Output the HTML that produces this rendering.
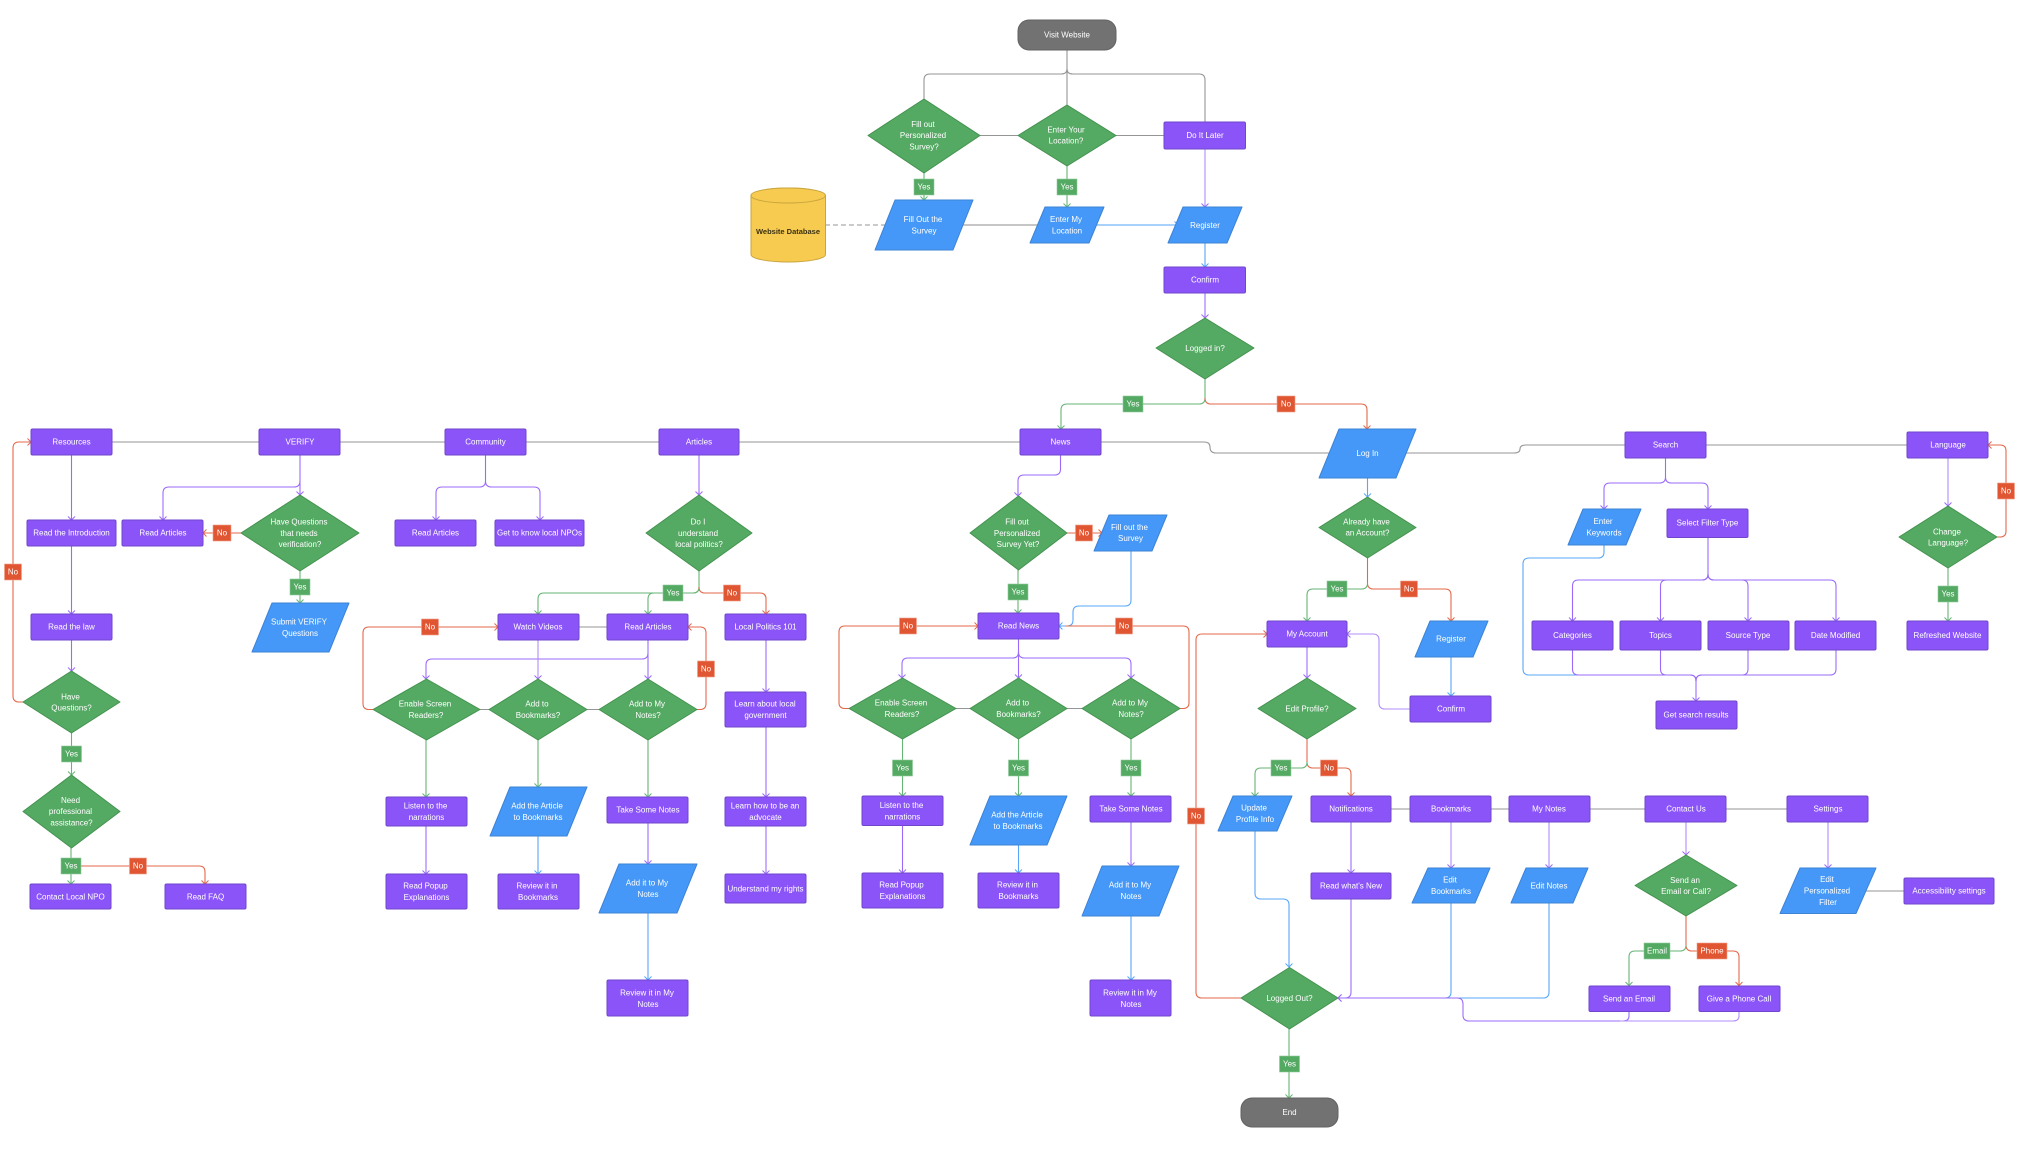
<!DOCTYPE html>
<html><head><meta charset="utf-8"><title>Flow</title>
<style>
html,body{margin:0;padding:0;background:#fff}
svg{display:block;filter:blur(.25px)}
text{font-family:"Liberation Sans",sans-serif;font-size:8px;fill:#fff;text-anchor:middle;dominant-baseline:central}
.p{fill:#8b54f8;stroke:#7146cc;stroke-width:1}
.d{fill:#54a963;stroke:#44924f;stroke-width:1;stroke-linejoin:round}
.b{fill:#4598f7;stroke:#3d83d6;stroke-width:1;stroke-linejoin:round}
.t{fill:#727272;stroke:#626262;stroke-width:1}
.ly{fill:#54a963;stroke:#8fcb9b;stroke-width:.6}
.ln{fill:#e05532;stroke:#f0a08c;stroke-width:.6}
path.c{fill:none;stroke-width:1.1}
.gy{stroke:#959595}.pu{stroke:#9a6bf9}.gr{stroke:#66b576}.bu{stroke:#58a7f9}.re{stroke:#e3684a}
.pa{marker-end:url(#mp)}.ga{marker-end:url(#mg)}.ba{marker-end:url(#mb)}.ra{marker-end:url(#mr)}
</style></head><body>
<svg width="2020" height="1162" viewBox="0 0 2020 1162" xmlns="http://www.w3.org/2000/svg">
<defs>
<marker id="mp" markerUnits="userSpaceOnUse" markerWidth="10" markerHeight="10" refX="8" refY="5" orient="auto"><path d="M4.5 1.5L8 5L4.5 8.5" fill="none" stroke="#9a6bf9" stroke-width="1"/></marker>
<marker id="mg" markerUnits="userSpaceOnUse" markerWidth="10" markerHeight="10" refX="8" refY="5" orient="auto"><path d="M4.5 1.5L8 5L4.5 8.5" fill="none" stroke="#66b576" stroke-width="1"/></marker>
<marker id="mb" markerUnits="userSpaceOnUse" markerWidth="10" markerHeight="10" refX="8" refY="5" orient="auto"><path d="M4.5 1.5L8 5L4.5 8.5" fill="none" stroke="#58a7f9" stroke-width="1"/></marker>
<marker id="mr" markerUnits="userSpaceOnUse" markerWidth="10" markerHeight="10" refX="8" refY="5" orient="auto"><path d="M4.5 1.5L8 5L4.5 8.5" fill="none" stroke="#e3684a" stroke-width="1"/></marker>
</defs>

<!-- gray connectors -->
<g>
<path class="c gy" d="M1067 50V105"/>
<path class="c gy" d="M1067 69Q1067 74 1061 74H930Q924 74 924 80V99"/>
<path class="c gy" d="M1067 69Q1067 74 1073 74H1199Q1205 74 1205 80V122"/>
<path class="c gy" d="M980 135.5H1018M1116 135.5H1164"/>
<path class="c gy" d="M825 225H886" stroke-dasharray="5 3"/>
<path class="c gy" style="stroke:#b4b4b4;stroke-width:1.5" d="M962 225H1040"/>
<path class="c gy" d="M112 442H259M340 442H445M526 442H659M739 442H1020"/>
<path class="c gy" d="M1101 442H1204Q1210 442 1210 447Q1210 453 1216 453H1332"/>
<path class="c gy" d="M1404 453H1514Q1520 453 1520 449Q1520 445 1526 445H1625M1706 445H1907"/>
<path class="c gy" d="M579 627H607M480 709.5H489M587 709.5H599M956 708.5H970M1067 708.5H1082"/>
<path class="c gy" d="M1391 809H1410M1491 809H1509M1590 809H1645M1726 809H1787M1862 891H1904"/>
</g>
<!-- top -->
<path class="c gr ga" d="M924 173V200"/>
<path class="c gr ga" d="M1067 166V207"/>
<path class="c pu pa" style="stroke:#b08cf9" d="M1205 149V207"/>
<path class="c bu ba" style="stroke:#8cc4fa;stroke-width:1.5" d="M1097 225H1178"/>
<path class="c bu ba" d="M1205 243V267"/>
<path class="c pu pa" d="M1205 293V318"/>
<path class="c gr ga" d="M1205 379V398Q1205 404 1199 404H1067Q1061 404 1061 410V429"/>
<path class="c re ra" d="M1205 398Q1205 404 1211 404H1361Q1367 404 1367 410V429"/>
<!-- resources -->
<path class="c pu pa" d="M71.500 455V520"/>
<path class="c pu pa" d="M71.500 546V614"/>
<path class="c pu pa" d="M71.500 640V671"/>
<path class="c gr ga" d="M71.500 733V775"/>
<path class="c gr ga" d="M71 848V884"/>
<path class="c re ra" d="M71 866H199Q205 866 205 872V884"/>
<path class="c re ra" d="M23 702H19Q13 702 13 696V448Q13 442 19 442H31"/>
<!-- verify -->
<path class="c pu pa" d="M300 455V495"/>
<path class="c pu pa" d="M300 481Q300 487 294 487H169Q163 487 163 493V520"/>
<path class="c re ra" d="M241 533H203"/>
<path class="c gr ga" d="M300 571V603"/>
<!-- community -->
<path class="c pu" d="M485.500 455V481"/>
<path class="c pu pa" d="M485.500 481Q485.500 487 479.500 487H442Q436 487 436 493V520"/>
<path class="c pu pa" d="M485.500 481Q485.500 487 491.500 487H534Q540 487 540 493V520"/>
<!-- articles -->
<path class="c pu pa" d="M699 455V495"/>
<path class="c gr" d="M699 571V587"/>
<path class="c gr ga" d="M699 587Q699 593 693 593H544Q538 593 538 599V614"/>
<path class="c gr ga" d="M699 587Q699 593 693 593H654Q648 593 648 599V614"/>
<path class="c re ra" d="M699 587Q699 593 705 593H760Q766 593 766 599V614"/>
<path class="c pu pa" d="M648 640V679"/>
<path class="c pu pa" d="M648 653Q648 659 642 659H432Q426 659 426 665V679"/>
<path class="c pu pa" style="stroke:#b08cf9" d="M538 640V679"/>
<path class="c re ra" d="M373 709.500H369Q363 709.500 363 703.500V633Q363 627 369 627H498"/>
<path class="c re ra" d="M697 709.500H700Q706 709.500 706 703.500V633Q706 627 700 627H688"/>
<path class="c gr ga" d="M426 740V797"/>
<path class="c gr ga" d="M538 740V787"/>
<path class="c gr ga" d="M648 740V797"/>
<path class="c pu pa" d="M426 826V874"/>
<path class="c bu ba" d="M538 836V874"/>
<path class="c pu pa" d="M648 823V864"/>
<path class="c bu ba" d="M648 913V980"/>
<path class="c pu pa" d="M766 640V692"/>
<path class="c pu pa" d="M766 727V797"/>
<path class="c pu pa" d="M766 826V874"/>
<!-- news -->
<path class="c pu pa" d="M1060.500 455V469Q1060.500 475 1054.500 475H1024Q1018 475 1018 481V496"/>
<path class="c re ra" d="M1067 533H1102"/>
<path class="c gr ga" d="M1018 570V613"/>
<path class="c bu ba" d="M1131 551V600Q1131 606 1125 606H1079Q1073 606 1073 612V620Q1073 626 1067 626H1059"/>
<path class="c re ra" d="M849 708.500H845Q839 708.500 839 702.500V632Q839 626 845 626H978"/>
<path class="c re" d="M1180 708.500H1183Q1189 708.500 1189 702.500V632Q1189 626 1183 626H1066"/>
<path class="c pu pa" d="M1018.500 639V678"/>
<path class="c pu pa" d="M1018.500 652Q1018.500 658 1012.500 658H908Q902 658 902 664V678"/>
<path class="c pu pa" d="M1018.500 652Q1018.500 658 1024.500 658H1125Q1131 658 1131 664V678"/>
<path class="c gr ga" d="M902.500 739V796"/>
<path class="c gr ga" d="M1018.500 739V796"/>
<path class="c gr ga" d="M1131 739V796"/>
<path class="c pu pa" d="M902.500 825V873"/>
<path class="c bu ba" d="M1018.500 845V873"/>
<path class="c pu pa" d="M1131 822V866"/>
<path class="c bu ba" d="M1131 916V980"/>
<!-- login / account -->
<path class="c re ra" d="M1241 998H1202Q1196 998 1196 992V640Q1196 634 1202 634H1267"/>
<path class="c bu ba" d="M1367.500 478V497"/>
<path class="c re" d="M1367.500 558V583"/>
<path class="c re ra" d="M1367.500 583Q1367.500 589 1373.500 589H1445Q1451 589 1451 595V621"/>
<path class="c gr ga" d="M1367.500 583Q1367.500 589 1361.500 589H1313Q1307 589 1307 595V621"/>
<path class="c pu pa" d="M1307 647V678"/>
<path class="c bu ba" d="M1451 657V696"/>
<path class="c pu pa" style="stroke:#b08cf9" d="M1410 709H1385Q1379 709 1379 703V640Q1379 634 1373 634H1347"/>
<path class="c re" d="M1307 739V762"/>
<path class="c re ra" d="M1307 762Q1307 768 1313 768H1345Q1351 768 1351 774V796"/>
<path class="c gr ga" d="M1307 762Q1307 768 1301 768H1261Q1255 768 1255 774V796"/>
<path class="c bu ba" d="M1255 831V893Q1255 899 1261 899H1283Q1289 899 1289 905V967"/>
<path class="c pu pa" d="M1351 822V873"/>
<path class="c bu" d="M1451 903V992Q1451 998 1445 998H1400"/>
<path class="c bu" d="M1549 903V992Q1549 998 1543 998H1440"/>
<path class="c pu pa" d="M1351 899V992Q1351 998 1345 998H1338"/>
<path class="c pu pa" d="M1629 1011V1016Q1629 1021 1623 1021H1469Q1463 1021 1463 1015V1004Q1463 998 1457 998H1338"/>
<path class="c pu" style="stroke:#b08cf9" d="M1739 1011V1016Q1739 1021 1733 1021H1620"/>
<path class="c pu pa" style="stroke:#b08cf9" d="M1451 822V868"/>
<path class="c pu pa" style="stroke:#b08cf9" d="M1549 822V868"/>
<path class="c gr ga" d="M1289 1029V1098"/>
<!-- contact / settings -->
<path class="c pu pa" style="stroke:#b08cf9" d="M1686 822V855"/>
<path class="c re" d="M1686 916V945"/>
<path class="c re ra" d="M1686 945Q1686 951 1692 951H1733Q1739 951 1739 957V985.500"/>
<path class="c gr ga" d="M1686 945Q1686 951 1680 951H1635Q1629 951 1629 957V985.500"/>
<path class="c pu pa" style="stroke:#b08cf9" d="M1828 822V868"/>
<!-- search -->
<path class="c pu" d="M1665.500 458V477"/>
<path class="c pu pa" d="M1665.500 477Q1665.500 483 1659.500 483H1610Q1604 483 1604 489V509"/>
<path class="c pu pa" d="M1665.500 477Q1665.500 483 1671.500 483H1702Q1708 483 1708 489V509"/>
<path class="c pu" d="M1708 537.500V574"/>
<path class="c pu pa" d="M1708 574Q1708 580 1702 580H1578.500Q1572.500 580 1572.500 586V621"/>
<path class="c pu pa" d="M1708 574Q1708 580 1702 580H1666.500Q1660.500 580 1660.500 586V621"/>
<path class="c pu pa" d="M1708 574Q1708 580 1714 580H1742Q1748 580 1748 586V621"/>
<path class="c pu pa" d="M1708 574Q1708 580 1714 580H1830Q1836 580 1836 586V621"/>
<path class="c bu" d="M1604 545V552Q1604 558 1598 558H1529Q1523 558 1523 564V669Q1523 675 1529 675H1578"/>
<path class="c pu" d="M1572.500 650V669Q1572.500 675 1578.500 675H1690Q1696 675 1696 681"/>
<path class="c pu" d="M1660.500 650V669Q1660.500 675 1666.500 675H1690Q1696 675 1696 681"/>
<path class="c pu" d="M1748 650V669Q1748 675 1742 675H1702Q1696 675 1696 681"/>
<path class="c pu" d="M1836 650V669Q1836 675 1830 675H1702Q1696 675 1696 681"/>
<path class="c pu pa" d="M1696 680V701"/>
<!-- language -->
<path class="c pu pa" style="stroke:#b08cf9" d="M1948 458V506"/>
<path class="c gr ga" d="M1948 568V621"/>
<path class="c re ra" d="M1997 537H2000Q2006 537 2006 531V451Q2006 445 2000 445H1988"/>

<!-- terminators -->
<rect class="t" x="1018" y="20" width="98" height="30" rx="11"/><text x="1067" y="35">Visit Website</text>
<rect class="t" x="1241" y="1098" width="97" height="29" rx="11"/><text x="1289.500" y="1112.500">End</text>

<!-- database -->
<path d="M751 195.500A37.200 7.500 0 0 1 825.500 195.500V254.500A37.200 7.500 0 0 1 751 254.500Z" fill="#f6cb50" stroke="#c9a53d"/>
<ellipse cx="788.200" cy="195.500" rx="37.200" ry="7.500" fill="#f6cb50" stroke="#c9a53d"/>
<text x="788" y="231.500" style="fill:#3b3113;font-weight:bold;font-size:7.500px">Website Database</text>

<!-- diamonds -->
<polygon class="d" points="924,99 980,135.500 924,173 868,135.500"/>
<text x="923" y="124.500">Fill out</text><text x="923" y="135.700">Personalized</text><text x="924" y="147">Survey?</text>
<polygon class="d" points="1067,105 1116,135.500 1067,166 1018,135.500"/>
<text x="1066" y="130">Enter Your</text><text x="1066" y="141.200">Location?</text>
<polygon class="d" points="1205,318 1254,348 1205,379 1156,348"/>
<text x="1205" y="348.500">Logged in?</text>
<polygon class="d" points="300,495 359,533 300,571 241,533"/>
<text x="299" y="522">Have Questions</text><text x="299" y="533.300">that needs</text><text x="300" y="544.500">verification?</text>
<polygon class="d" points="71.500,671 120,702 71.500,733 23,702"/>
<text x="70.500" y="697">Have</text><text x="71.500" y="708">Questions?</text>
<polygon class="d" points="71.500,775 120,811.500 71.500,848 23,811.500"/>
<text x="70.500" y="800.500">Need</text><text x="70.500" y="811.700">professional</text><text x="71.500" y="823">assistance?</text>
<polygon class="d" points="699,495 752,533 699,571 646,533"/>
<text x="698" y="522">Do I</text><text x="698" y="533.300">understand</text><text x="699" y="544.500">local politics?</text>
<polygon class="d" points="426.500,679 480,709.500 426.500,740 373,709.500"/>
<text x="425" y="704">Enable Screen</text><text x="426" y="715.300">Readers?</text>
<polygon class="d" points="538,679 587,709.500 538,740 489,709.500"/>
<text x="537" y="704">Add to</text><text x="538" y="715.300">Bookmarks?</text>
<polygon class="d" points="648,679 697,709.500 648,740 599,709.500"/>
<text x="647" y="704">Add to My</text><text x="648" y="715.300">Notes?</text>
<polygon class="d" points="1018.500,496 1067,533 1018.500,570 970,533"/>
<text x="1017" y="522">Fill out</text><text x="1017" y="533.300">Personalized</text><text x="1018" y="544.500">Survey Yet?</text>
<polygon class="d" points="902.500,678 956,708.500 902.500,739 849,708.500"/>
<text x="901" y="703">Enable Screen</text><text x="902" y="714.300">Readers?</text>
<polygon class="d" points="1018.500,678 1067,708.500 1018.500,739 970,708.500"/>
<text x="1017.500" y="703">Add to</text><text x="1018.500" y="714.300">Bookmarks?</text>
<polygon class="d" points="1131,678 1180,708.500 1131,739 1082,708.500"/>
<text x="1130" y="703">Add to My</text><text x="1131" y="714.300">Notes?</text>
<polygon class="d" points="1367.500,497 1416,527.500 1367.500,558 1319,527.500"/>
<text x="1366.500" y="522">Already have</text><text x="1367.500" y="533">an Account?</text>
<polygon class="d" points="1307,678 1356,708.500 1307,739 1258,708.500"/>
<text x="1307" y="709">Edit Profile?</text>
<polygon class="d" points="1289.500,967.500 1338,998 1289.500,1029 1241,998"/>
<text x="1289.500" y="998.500">Logged Out?</text>
<polygon class="d" points="1686,855 1737,885.500 1686,916 1635,885.500"/>
<text x="1685" y="880.500">Send an</text><text x="1686" y="891.500">Email or Call?</text>
<polygon class="d" points="1948,506 1997,537 1948,568 1899,537"/>
<text x="1947" y="532">Change</text><text x="1948" y="543">Language?</text>

<!-- parallelograms -->
<polygon class="b" points="895,200 973,200 953,250 875,250"/>
<text x="923" y="219.500">Fill Out the</text><text x="924" y="231">Survey</text>
<polygon class="b" points="1045,207 1104,207 1089,243 1030,243"/>
<text x="1066" y="219.500">Enter My</text><text x="1067" y="231">Location</text>
<polygon class="b" points="1183,207 1242,207 1227,243 1168,243"/>
<text x="1205" y="225.500">Register</text>
<polygon class="b" points="1339,429 1416,429 1396,478 1319,478"/>
<text x="1367.500" y="453.500">Log In</text>
<polygon class="b" points="272,603 349,603 329,652 252,652"/>
<text x="299" y="622">Submit VERIFY</text><text x="300" y="633.300">Questions</text>
<polygon class="b" points="510,787 587,787 567,836 490,836"/>
<text x="537" y="806">Add the Article</text><text x="538" y="817.300">to Bookmarks</text>
<polygon class="b" points="619,864 697,864 677,913 599,913"/>
<text x="647" y="883">Add it to My</text><text x="648" y="894.300">Notes</text>
<polygon class="b" points="1109,515 1167,515 1152,551 1094,551"/>
<text x="1129.500" y="527.500">Fill out the</text><text x="1130.500" y="538.500">Survey</text>
<polygon class="b" points="990,796 1067,796 1047,845 970,845"/>
<text x="1017" y="815">Add the Article</text><text x="1018" y="826.300">to Bookmarks</text>
<polygon class="b" points="1102,866 1179,866 1159,916 1082,916"/>
<text x="1130" y="885">Add it to My</text><text x="1131" y="896.300">Notes</text>
<polygon class="b" points="1233,796 1292,796 1277,831 1218,831"/>
<text x="1254" y="808">Update</text><text x="1255" y="819.300">Profile Info</text>
<polygon class="b" points="1430,621 1488,621 1473,657 1415,657"/>
<text x="1451" y="639">Register</text>
<polygon class="b" points="1428,868 1490,868 1475,903 1412,903"/>
<text x="1450" y="880">Edit</text><text x="1451" y="891.300">Bookmarks</text>
<polygon class="b" points="1526,868 1588,868 1573,903 1511,903"/>
<text x="1549" y="886">Edit Notes</text>
<polygon class="b" points="1583,509 1641,509 1626,545 1568,545"/>
<text x="1603" y="521.500">Enter</text><text x="1604" y="533">Keywords</text>
<polygon class="b" points="1800,868 1876,868 1856,913.500 1780,913.500"/>
<text x="1827" y="879.500">Edit</text><text x="1827" y="891">Personalized</text><text x="1828" y="902.500">Filter</text>

<!-- process boxes -->
<rect class="p" x="1164" y="122" width="81.500" height="27" rx="1.500"/><text x="1205" y="135.500">Do It Later</text>
<rect class="p" x="1164" y="267" width="81.500" height="26" rx="1.500"/><text x="1205" y="280">Confirm</text>
<rect class="p" x="31" y="429" width="81" height="26" rx="1.500"/><text x="71.500" y="442">Resources</text>
<rect class="p" x="259" y="429" width="81" height="26" rx="1.500"/><text x="300" y="442">VERIFY</text>
<rect class="p" x="445" y="429" width="81" height="26" rx="1.500"/><text x="485.500" y="442">Community</text>
<rect class="p" x="659" y="429" width="80" height="26" rx="1.500"/><text x="699" y="442">Articles</text>
<rect class="p" x="1020" y="429" width="81" height="26" rx="1.500"/><text x="1060.500" y="442">News</text>
<rect class="p" x="1625" y="432" width="81" height="26" rx="1.500"/><text x="1665.500" y="445">Search</text>
<rect class="p" x="1907" y="432" width="81" height="26" rx="1.500"/><text x="1948" y="445">Language</text>
<rect class="p" x="27" y="520" width="89" height="26" rx="1.500"/><text x="71.500" y="533">Read the Introduction</text>
<rect class="p" x="122" y="520" width="81" height="26" rx="1.500"/><text x="163" y="533">Read Articles</text>
<rect class="p" x="395" y="520" width="81" height="26" rx="1.500"/><text x="435.500" y="533">Read Articles</text>
<rect class="p" x="495" y="520" width="89" height="26" rx="1.500"/><text x="539.500" y="533">Get to know local NPOs</text>
<rect class="p" x="31" y="614" width="81" height="26" rx="1.500"/><text x="71.500" y="627">Read the law</text>
<rect class="p" x="30" y="884" width="81" height="25" rx="1.500"/><text x="70.500" y="897">Contact Local NPO</text>
<rect class="p" x="165" y="884" width="81" height="25" rx="1.500"/><text x="205.500" y="897">Read FAQ</text>
<rect class="p" x="498" y="614" width="81" height="26" rx="1.500"/><text x="538" y="627">Watch Videos</text>
<rect class="p" x="607" y="614" width="81" height="26" rx="1.500"/><text x="648" y="627">Read Articles</text>
<rect class="p" x="725" y="614" width="81" height="26" rx="1.500"/><text x="765.500" y="627">Local Politics 101</text>
<rect class="p" x="725" y="692" width="81" height="35" rx="1.500"/><text x="765" y="704">Learn about local</text><text x="765.500" y="715.300">government</text>
<rect class="p" x="386" y="797" width="81" height="29" rx="1.500"/><text x="425.500" y="806">Listen to the</text><text x="426.500" y="817.300">narrations</text>
<rect class="p" x="607" y="797" width="81" height="26" rx="1.500"/><text x="648" y="810">Take Some Notes</text>
<rect class="p" x="725" y="797" width="81" height="29" rx="1.500"/><text x="765" y="806">Learn how to be an</text><text x="765.500" y="817.300">advocate</text>
<rect class="p" x="386" y="874" width="81" height="35" rx="1.500"/><text x="425.500" y="886">Read Popup</text><text x="426.500" y="897.300">Explanations</text>
<rect class="p" x="498" y="874" width="81" height="35" rx="1.500"/><text x="537" y="886">Review it in</text><text x="538" y="897.300">Bookmarks</text>
<rect class="p" x="725" y="874" width="81" height="29" rx="1.500"/><text x="765.500" y="889">Understand my rights</text>
<rect class="p" x="607" y="980" width="81" height="36" rx="1.500"/><text x="647" y="993">Review it in My</text><text x="648" y="1004.300">Notes</text>
<rect class="p" x="978" y="613" width="81" height="26" rx="1.500"/><text x="1018.500" y="626">Read News</text>
<rect class="p" x="862" y="796" width="81" height="29.500" rx="1.500"/><text x="901.500" y="805.500">Listen to the</text><text x="902.500" y="816.800">narrations</text>
<rect class="p" x="1090" y="796" width="81" height="26" rx="1.500"/><text x="1131" y="809">Take Some Notes</text>
<rect class="p" x="862" y="873" width="81" height="35" rx="1.500"/><text x="901.500" y="885">Read Popup</text><text x="902.500" y="896.300">Explanations</text>
<rect class="p" x="978" y="873" width="81" height="35" rx="1.500"/><text x="1017.500" y="885">Review it in</text><text x="1018.500" y="896.300">Bookmarks</text>
<rect class="p" x="1090" y="980" width="81" height="36" rx="1.500"/><text x="1130" y="993">Review it in My</text><text x="1131" y="1004.300">Notes</text>
<rect class="p" x="1267" y="621" width="80" height="26" rx="1.500"/><text x="1307" y="634">My Account</text>
<rect class="p" x="1410" y="696" width="81" height="26" rx="1.500"/><text x="1451" y="709">Confirm</text>
<rect class="p" x="1311" y="796" width="80" height="26" rx="1.500"/><text x="1351" y="809">Notifications</text>
<rect class="p" x="1410" y="796" width="81" height="26" rx="1.500"/><text x="1451" y="809">Bookmarks</text>
<rect class="p" x="1509" y="796" width="81" height="26" rx="1.500"/><text x="1549" y="809">My Notes</text>
<rect class="p" x="1645" y="796" width="81" height="26" rx="1.500"/><text x="1686" y="809">Contact Us</text>
<rect class="p" x="1787" y="796" width="81" height="26" rx="1.500"/><text x="1828" y="809">Settings</text>
<rect class="p" x="1311" y="873" width="80" height="26" rx="1.500"/><text x="1351" y="886">Read what's New</text>
<rect class="p" x="1589" y="986" width="81" height="25.500" rx="1.500"/><text x="1629" y="999">Send an Email</text>
<rect class="p" x="1699" y="986" width="81" height="25.500" rx="1.500"/><text x="1739" y="999">Give a Phone Call</text>
<rect class="p" x="1904" y="878" width="90" height="26" rx="1.500"/><text x="1949" y="891">Accessibility settings</text>
<rect class="p" x="1667" y="509" width="81" height="28.500" rx="1.500"/><text x="1707.500" y="523">Select Filter Type</text>
<rect class="p" x="1532" y="621" width="81" height="29" rx="1.500"/><text x="1572.500" y="635.500">Categories</text>
<rect class="p" x="1620" y="621" width="81" height="29" rx="1.500"/><text x="1660.500" y="635.500">Topics</text>
<rect class="p" x="1708" y="621" width="81" height="29" rx="1.500"/><text x="1748" y="635.500">Source Type</text>
<rect class="p" x="1795" y="621" width="81" height="29" rx="1.500"/><text x="1835.500" y="635.500">Date Modified</text>
<rect class="p" x="1656" y="701" width="81" height="28" rx="1.500"/><text x="1696" y="715">Get search results</text>
<rect class="p" x="1907" y="621" width="81" height="29" rx="1.500"/><text x="1947.500" y="635.500">Refreshed Website</text>

<!-- connector labels -->
<rect class="ly" x="914" y="179" width="20" height="16"/><text x="924" y="187">Yes</text>
<rect class="ly" x="1057" y="179" width="20" height="16"/><text x="1067" y="187">Yes</text>
<rect class="ly" x="1123" y="396" width="20" height="16"/><text x="1133" y="404">Yes</text>
<rect class="ln" x="1277" y="396" width="18" height="16"/><text x="1286" y="404">No</text>
<rect class="ln" x="213" y="525" width="18" height="16"/><text x="222" y="533">No</text>
<rect class="ly" x="290" y="579" width="20" height="16"/><text x="300" y="587">Yes</text>
<rect class="ln" x="4.500" y="564" width="17" height="16"/><text x="13" y="572">No</text>
<rect class="ly" x="61.500" y="746" width="20" height="16"/><text x="71.500" y="754">Yes</text>
<rect class="ly" x="61" y="858" width="20" height="16"/><text x="71" y="866">Yes</text>
<rect class="ln" x="129.500" y="858" width="17" height="16"/><text x="138" y="866">No</text>
<rect class="ly" x="663" y="585" width="20" height="16"/><text x="673" y="593">Yes</text>
<rect class="ln" x="723.500" y="585" width="17" height="16"/><text x="732" y="593">No</text>
<rect class="ln" x="421.500" y="619" width="17" height="16"/><text x="430" y="627">No</text>
<rect class="ln" x="697.500" y="661" width="17" height="16"/><text x="706" y="669">No</text>
<rect class="ln" x="1075.500" y="525" width="17" height="16"/><text x="1084" y="533">No</text>
<rect class="ly" x="1008" y="584" width="20" height="16"/><text x="1018" y="592">Yes</text>
<rect class="ln" x="899.500" y="618" width="17" height="16"/><text x="908" y="626">No</text>
<rect class="ln" x="1115.500" y="618" width="17" height="16"/><text x="1124" y="626">No</text>
<rect class="ly" x="892.500" y="760" width="20" height="16"/><text x="902.500" y="768">Yes</text>
<rect class="ly" x="1008.500" y="760" width="20" height="16"/><text x="1018.500" y="768">Yes</text>
<rect class="ly" x="1121" y="760" width="20" height="16"/><text x="1131" y="768">Yes</text>
<rect class="ln" x="1187.500" y="808" width="17" height="16"/><text x="1196" y="816">No</text>
<rect class="ly" x="1327" y="581" width="20" height="16"/><text x="1337" y="589">Yes</text>
<rect class="ln" x="1400.500" y="581" width="17" height="16"/><text x="1409" y="589">No</text>
<rect class="ly" x="1271" y="760" width="20" height="16"/><text x="1281" y="768">Yes</text>
<rect class="ln" x="1320.500" y="760" width="17" height="16"/><text x="1329" y="768">No</text>
<rect class="ly" x="1279.500" y="1056" width="20" height="16"/><text x="1289.500" y="1064">Yes</text>
<rect class="ly" x="1644" y="943" width="26" height="16"/><text x="1657" y="951">Email</text>
<rect class="ln" x="1697" y="943" width="30" height="16"/><text x="1712" y="951">Phone</text>
<rect class="ly" x="1938" y="586" width="20" height="16"/><text x="1948" y="594">Yes</text>
<rect class="ln" x="1997.500" y="483" width="17" height="16"/><text x="2006" y="491">No</text>
</svg>
</body></html>
